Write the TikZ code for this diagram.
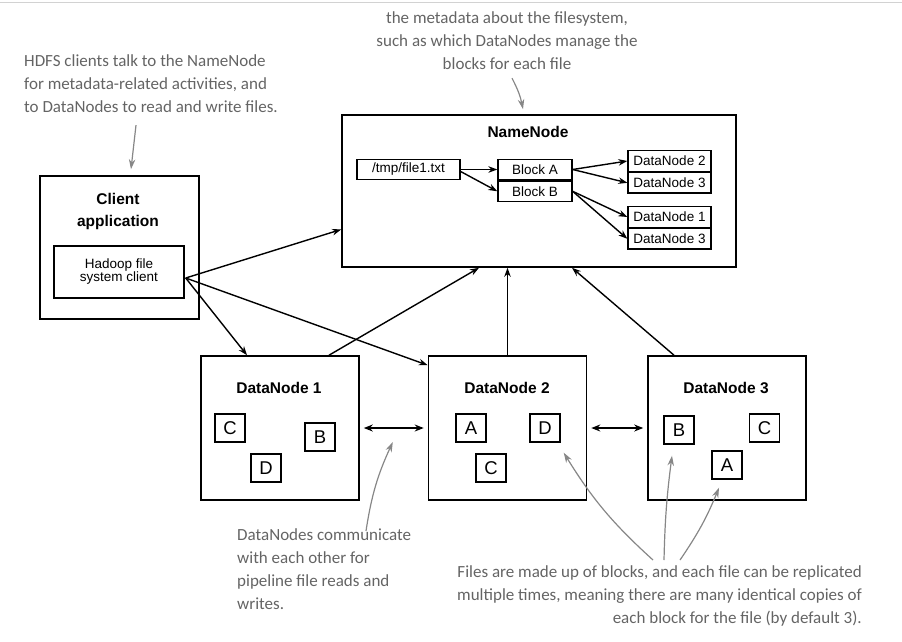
\documentclass[tikz,border=0pt]{standalone}
\usepackage{fontspec}
\setmainfont{Liberation Sans}
\newfontfamily\notefont{Carlito}
\usepackage{xcolor}
\definecolor{notegray}{RGB}{100,100,100}
\definecolor{notearrowgray}{RGB}{135,135,135}
\usetikzlibrary{arrows.meta,positioning,calc}

\tikzset{
  bigbox/.style={draw=black,line width=1.6pt,minimum width=158pt,minimum height=144pt,inner sep=0pt},
  boxtitle/.style={font=\fontsize{15.5pt}{22pt}\selectfont\bfseries,align=center,inner sep=0pt},
  smallbox/.style={draw=black,line width=1.3pt,inner sep=0pt,minimum height=20.5pt,
    font=\fontsize{13.5pt}{13pt}\selectfont},
  blockbox/.style={draw=black,line width=1.4pt,minimum width=30pt,minimum height=28pt,
    inner sep=0pt,font=\fontsize{18.5pt}{18pt}\selectfont},
  link/.style={-{Stealth[length=9pt,width=6.5pt]},line width=1.4pt,black},
  duplex/.style={{Stealth[length=9pt,width=7pt]}-{Stealth[length=9pt,width=7pt]},line width=2pt,black},
  note/.style={text=notegray,font=\notefont\fontsize{17pt}{23pt}\selectfont,inner sep=0pt},
  notearrow/.style={-{Stealth[length=10pt,width=6.5pt]},line width=1.2pt,notearrowgray},
}

\begin{document}
\begin{tikzpicture}[x=1pt,y=-1pt]
  \useasboundingbox (0,0) rectangle (902,641);
  \draw[gray!35,line width=1pt] (0,2) -- (902,2);

  % Client application
  \node[bigbox,minimum width=159pt,minimum height=143pt] (client) at (119.5,247.5) {};
  \node[boxtitle] (clienttitle) at (118,211) {Client\\application};
  \node[draw=black,line width=1.4pt,minimum width=130pt,minimum height=52pt,inner sep=0pt,
    align=center,font=\fontsize{13.5pt}{13pt}\selectfont] (fsclient) at (119,272)
    {Hadoop file\\system client};

  % NameNode
  \node[bigbox,minimum width=394pt,minimum height=152pt] (namenode) at (539,191) {};
  \node[boxtitle] (nntitle) at (528,132) {NameNode};
  \node[smallbox,minimum width=103pt] (path) at (408.5,169.5) {/tmp/file1.txt};
  \node[smallbox,minimum width=74pt] (blocka) at (535,169.5) {Block A};
  \node[smallbox,minimum width=74pt,anchor=north] (blockb) at (blocka.south) {Block B};
  \node[smallbox,minimum width=83pt] (mapa2) at (669.5,161) {DataNode 2};
  \node[smallbox,minimum width=83pt,anchor=north] (mapa3) at (mapa2.south) {DataNode 3};
  \node[smallbox,minimum width=83pt] (mapb1) at (669.5,217) {DataNode 1};
  \node[smallbox,minimum width=83pt,anchor=north] (mapb3) at (mapb1.south) {DataNode 3};
  \draw[link] (path.east) -- (blocka.west);
  \draw[link] ([yshift=-2pt]path.east) -- (blockb.west);
  \draw[link] (blocka.east) -- (mapa2.west);
  \draw[link] (blocka.east) -- (mapa3.west);
  \draw[link] (blockb.east) -- (mapb1.west);
  \draw[link] (blockb.east) -- (mapb3.west);

  % DataNodes
  \node[bigbox] (dn1) at (280,428) {};
  \node[bigbox] (dn2) at (507.5,428) {};
  \node[bigbox] (dn3) at (727,428) {};
  \node[boxtitle] (dn1title) at (279,388) {DataNode 1};
  \node[boxtitle] (dn2title) at (507,388) {DataNode 2};
  \node[boxtitle] (dn3title) at (726,388) {DataNode 3};
  \node[blockbox] (dn1c) at (230,428) {C};
  \node[blockbox] (dn1b) at (320,437) {B};
  \node[blockbox] (dn1d) at (266,468) {D};
  \node[blockbox] (dn2a) at (471,428) {A};
  \node[blockbox] (dn2d) at (545,428) {D};
  \node[blockbox] (dn2c) at (491,468) {C};
  \node[blockbox] (dn3b) at (679,430) {B};
  \node[blockbox] (dn3c) at (764.5,428) {C};
  \node[blockbox] (dn3a) at (727,465) {A};

  % client and datanode traffic
  \coordinate (fanout) at ([xshift=1pt,yshift=-6pt]fsclient.east);
  \draw[link] (fanout) -- (namenode.191);
  \draw[link] (fanout) -- ([xshift=-33pt]dn1.north);
  \draw[link] (fanout) -- ([yshift=-10pt]dn2.north west);
  \draw[link] ([xshift=49pt]dn1.north) -- ([xshift=-60pt]namenode.south);
  \draw[link] (dn2.north) -- (dn2.north |- namenode.south);
  \draw[link] ([xshift=-53pt]dn3.north) -- ([xshift=33pt]namenode.south);
  \draw[duplex,shorten <=4pt,shorten >=4pt] (dn1.east) -- (dn2.west);
  \draw[duplex,shorten <=4pt,shorten >=4pt] (dn2.east) -- (dn3.west);

  % annotations
  \node[note,align=left,anchor=west] (clientnote) at (24,84)
    {HDFS clients talk to the NameNode\\for metadata-related activities, and\\to DataNodes to read and write files.};
  \node[note,align=center] (nnnote) at (507,41)
    {the metadata about the filesystem,\\such as which DataNodes manage the\\blocks for each file};
  \node[note,align=left,anchor=north west] (commnote) at (237,528)
    {DataNodes communicate\\with each other for\\pipeline file reads and\\writes.};
  \node[note,align=right,anchor=north east] (replnote) at (862,565)
    {Files are made up of blocks, and each file can be replicated\\multiple times, meaning there are many identical copies of\\each block for the file (by default 3).};
  \draw[notearrow] ([xshift=112pt,yshift=-12pt]clientnote.south west) -- ([xshift=11.5pt,yshift=6pt]client.north);
  \draw[notearrow] ([xshift=5pt,yshift=-8pt]nnnote.south) to[bend left=8] ([xshift=-16pt,yshift=5pt]namenode.north);
  \draw[notearrow] ([xshift=129pt,yshift=-3pt]commnote.north west) to[bend left=8] ([xshift=33pt,yshift=-14pt]dn1.east);
  \draw[notearrow] ([xshift=-209pt,yshift=5pt]replnote.north east) to[bend left=8] ([xshift=3pt,yshift=-10pt]dn2d.south east);
  \draw[notearrow] ([xshift=-198pt,yshift=5pt]replnote.north east) to[bend left=3] ([xshift=-7pt,yshift=-11pt]dn3b.south);
  \draw[notearrow] ([xshift=-182pt,yshift=5pt]replnote.north east) to[bend right=6] ([xshift=-8pt,yshift=-8pt]dn3a.south);
\end{tikzpicture}
\end{document}
